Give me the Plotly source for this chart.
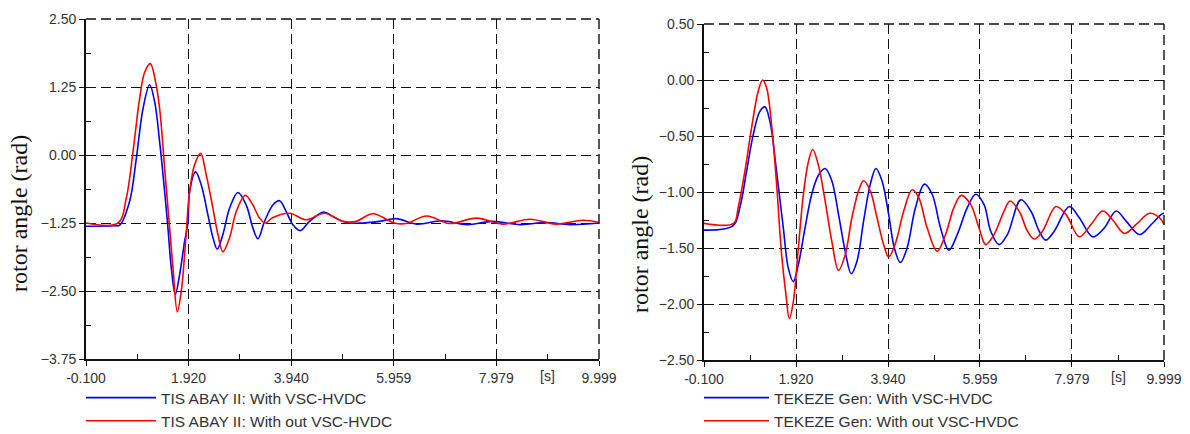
import plotly.graph_objects as go

W, H = 1190, 434

# ---------------- data ----------------
# Left panel: TIS ABAY II rotor angle (rad) vs time (s)
tis_vsc_t = [-0.1, 0.45, 0.563, 0.759, 0.891, 1.022, 1.153, 1.251, 1.350, 1.448,
             1.513, 1.579, 1.658, 1.743, 1.841, 1.907, 1.940, 2.058, 2.169, 2.300,
             2.399, 2.484, 2.595, 2.726, 2.890, 3.054, 3.185, 3.284, 3.415, 3.579,
             3.710, 3.841, 3.972, 4.116, 4.300, 4.582, 4.759, 5.021, 5.349, 5.677,
             6.005, 6.41, 6.9, 7.4, 7.9, 8.45, 8.95, 9.43, 9.999]
tis_vsc_y = [-1.31, -1.30, -1.29, -0.85, -0.06, 0.85, 1.29, 0.98, 0.24, -0.67,
             -1.34, -2.07, -2.56, -2.20, -1.59, -1.25, -0.67, -0.31, -0.55, -1.10,
             -1.52, -1.73, -1.46, -0.98, -0.69, -0.92, -1.34, -1.54, -1.22, -0.92,
             -0.84, -1.04, -1.28, -1.39, -1.22, -1.05, -1.13, -1.24, -1.25, -1.22,
             -1.17, -1.27, -1.21, -1.28, -1.22, -1.28, -1.24, -1.28, -1.25]
tis_novsc_t = [-0.1, 0.53, 0.694, 0.825, 0.956, 1.055, 1.166, 1.271, 1.350, 1.448,
               1.546, 1.612, 1.697, 1.776, 1.861, 1.940, 2.038, 2.156, 2.268, 2.399,
               2.497, 2.595, 2.726, 2.858, 3.035, 3.185, 3.317, 3.428, 3.579, 3.907,
               4.235, 4.595, 4.956, 5.218, 5.546, 5.972, 6.2, 6.61, 7.05, 7.59,
               8.1, 8.64, 9.15, 9.69, 9.999]
tis_novsc_y = [-1.25, -1.25, -0.79, 0.06, 1.04, 1.52, 1.68, 1.34, 0.85, -0.24,
               -1.34, -2.07, -2.88, -2.50, -1.59, -0.67, -0.18, 0.03, -0.37, -0.98,
               -1.46, -1.78, -1.52, -1.04, -0.74, -0.92, -1.16, -1.25, -1.15, -1.07,
               -1.19, -1.07, -1.22, -1.22, -1.08, -1.25, -1.26, -1.12, -1.26, -1.16,
               -1.27, -1.18, -1.27, -1.20, -1.24]

# Right panel: TEKEZE Gen rotor angle (rad) vs time (s)
tek_vsc_t = [-0.1, 0.539, 0.686, 0.833, 0.980, 1.127, 1.237, 1.347, 1.494, 1.641,
             1.751, 1.861, 1.971, 2.118, 2.265, 2.412, 2.559, 2.706, 2.853, 3.000,
             3.132, 3.257, 3.404, 3.551, 3.675, 3.807, 3.954, 4.079, 4.211, 4.358,
             4.542, 4.740, 4.909, 5.092, 5.276, 5.460, 5.680, 5.863, 6.047, 6.194,
             6.378, 6.561, 6.855, 7.075, 7.259, 7.406, 7.589, 7.920, 8.140, 8.434,
             8.691, 8.948, 9.168, 9.462, 9.719, 9.939, 9.999]
tek_vsc_y = [-1.34, -1.30, -1.14, -0.82, -0.49, -0.28, -0.24, -0.37, -0.82, -1.32,
             -1.68, -1.80, -1.65, -1.32, -1.02, -0.85, -0.79, -0.90, -1.20, -1.53,
             -1.73, -1.62, -1.26, -0.93, -0.79, -0.90, -1.20, -1.50, -1.63, -1.50,
             -1.14, -0.93, -1.02, -1.32, -1.52, -1.38, -1.14, -1.02, -1.11, -1.35,
             -1.47, -1.38, -1.07, -1.17, -1.35, -1.43, -1.35, -1.13, -1.23, -1.40,
             -1.32, -1.17, -1.26, -1.38, -1.29, -1.20, -1.19]
tek_novsc_t = [-0.1, 0.55, 0.650, 0.796, 0.943, 1.090, 1.186, 1.274, 1.384, 1.494,
               1.604, 1.700, 1.773, 1.861, 1.971, 2.082, 2.192, 2.287, 2.412, 2.559,
               2.706, 2.853, 3.000, 3.147, 3.293, 3.404, 3.551, 3.698, 3.844, 3.954,
               4.101, 4.285, 4.468, 4.615, 4.799, 5.019, 5.203, 5.386, 5.548, 5.753,
               5.937, 6.084, 6.267, 6.488, 6.620, 6.818, 7.002, 7.149, 7.332, 7.626,
               7.846, 8.140, 8.397, 8.654, 8.874, 9.131, 9.388, 9.682, 9.902, 9.999]
tek_novsc_y = [-1.28, -1.28, -1.14, -0.82, -0.43, -0.10, 0.0, -0.07, -0.40, -0.93,
               -1.56, -1.92, -2.13, -1.98, -1.50, -1.02, -0.73, -0.62, -0.76, -1.08,
               -1.44, -1.70, -1.56, -1.23, -0.99, -0.90, -0.99, -1.23, -1.47, -1.58,
               -1.46, -1.17, -0.98, -1.05, -1.32, -1.53, -1.38, -1.14, -1.03, -1.11,
               -1.32, -1.47, -1.38, -1.17, -1.08, -1.17, -1.35, -1.42, -1.35, -1.13,
               -1.20, -1.40, -1.29, -1.17, -1.25, -1.37, -1.29, -1.19, -1.23, -1.29]

x_tickvals = [-0.1, 1.92, 3.94, 5.959, 7.979, 9.999]
x_ticktext = ["-0.100", "1.920", "3.940", "5.959", "7.979", "9.999"]
x_minor_vals = [0.91, 2.93, 4.9495, 6.969, 8.989]
x_unit_label = "[s]"
x_unit_pos = 8.989

left_yticks = [-3.75, -2.5, -1.25, 0.0, 1.25, 2.5]
left_yminor = [-3.125, -1.875, -0.625, 0.625, 1.875]
right_yticks = [-2.5, -2.0, -1.5, -1.0, -0.5, 0.0, 0.5]
right_yminor = [-2.25, -1.75, -1.25, -0.75, -0.25, 0.25]

y_title = "rotor angle (rad)"
names_left = ["TIS ABAY II: With VSC-HVDC", "TIS ABAY II: With out VSC-HVDC"]
names_right = ["TEKEZE Gen: With VSC-HVDC", "TEKEZE Gen: With out VSC-HVDC"]

BLUE = "#0000ff"
RED = "#ff0000"
INK = "#111111"
TICK_FONT = dict(family="Liberation Sans, Arial, sans-serif", size=14, color="#333333")
LEG_FONT = dict(family="Liberation Sans, Arial, sans-serif", size=15.5, color="#333333")
DASH = "10px,5px"


def px_x(p):
    return p / W


def px_y(p):
    return 1 - p / H


fig = go.Figure()

fig.add_trace(go.Scatter(x=tis_vsc_t, y=tis_vsc_y, name=names_left[0], mode="lines",
                         line=dict(color=BLUE, width=1.6, shape="spline"),
                         xaxis="x", yaxis="y", legend="legend"))
fig.add_trace(go.Scatter(x=tis_novsc_t, y=tis_novsc_y, name=names_left[1], mode="lines",
                         line=dict(color=RED, width=1.6, shape="spline"),
                         xaxis="x", yaxis="y", legend="legend"))
fig.add_trace(go.Scatter(x=tek_vsc_t, y=tek_vsc_y, name=names_right[0], mode="lines",
                         line=dict(color=BLUE, width=1.6, shape="spline"),
                         xaxis="x2", yaxis="y2", legend="legend2"))
fig.add_trace(go.Scatter(x=tek_novsc_t, y=tek_novsc_y, name=names_right[1], mode="lines",
                         line=dict(color=RED, width=1.6, shape="spline"),
                         xaxis="x2", yaxis="y2", legend="legend2"))

GRID = dict(showgrid=True, gridcolor=INK, gridwidth=1.4, griddash=DASH,
            showline=True, linecolor=INK, linewidth=1.8, automargin=False,
            ticks="outside", ticklen=5, tickcolor=INK, tickfont=TICK_FONT,
            zeroline=False, mirror=False)


def minor(vals):
    return dict(tickmode="array", tickvals=vals, ticks="inside", ticklen=5,
                tickcolor=INK, showgrid=False)


# panel geometry (pixels)
L = dict(x0=86, x1=599, y0=19, y1=359)
R = dict(x0=704, x1=1164, y0=24, y1=360)

fig.update_layout(
    width=W, height=H, margin=dict(l=0, r=0, t=0, b=0, autoexpand=False),
    paper_bgcolor="white", plot_bgcolor="white",
    xaxis=dict(domain=[px_x(L["x0"]), px_x(L["x1"])], range=[-0.1, 9.999], anchor="y",
               tickmode="array", tickvals=x_tickvals, ticktext=x_ticktext,
               minor=minor(x_minor_vals), **GRID),
    yaxis=dict(domain=[px_y(L["y1"]), px_y(L["y0"])], range=[-3.75, 2.5], anchor="x",
               tickmode="array", tickvals=left_yticks, tickformat=".2f",
               minor=minor(left_yminor), **GRID),
    xaxis2=dict(domain=[px_x(R["x0"]), px_x(R["x1"])], range=[-0.1, 9.999], anchor="y2",
                tickmode="array", tickvals=x_tickvals, ticktext=x_ticktext,
                minor=minor(x_minor_vals), **GRID),
    yaxis2=dict(domain=[px_y(R["y1"]), px_y(R["y0"])], range=[-2.5, 0.5], anchor="x2",
                tickmode="array", tickvals=right_yticks, tickformat=".2f",
                minor=minor(right_yminor), **GRID),
    legend=dict(x=px_x(81), y=px_y(381), xanchor="left", yanchor="top",
                itemwidth=70, bgcolor="rgba(0,0,0,0)", tracegroupgap=0, font=LEG_FONT),
    legend2=dict(x=px_x(699), y=px_y(381), xanchor="left", yanchor="top",
                 itemwidth=65, bgcolor="rgba(0,0,0,0)", tracegroupgap=0, font=LEG_FONT),
    showlegend=True,
)

# dashed top and right frame edges (the grid lines at the range limits)
shapes = []
for xr, yr in [("x domain", "y domain"), ("x2 domain", "y2 domain")]:
    shapes.append(dict(type="line", xref=xr, yref=yr, x0=0, x1=1, y0=1, y1=1,
                       line=dict(color=INK, width=1.4, dash=DASH), layer="above"))
    shapes.append(dict(type="line", xref=xr, yref=yr, x0=1, x1=1, y0=0, y1=1,
                       line=dict(color=INK, width=1.4, dash=DASH), layer="above"))

annots = []
for xc, yc in [(19, 214), (640, 235)]:
    annots.append(dict(text=y_title, xref="paper", yref="paper", x=px_x(xc), y=px_y(yc),
                       xanchor="center", yanchor="middle", textangle=-90, showarrow=False,
                       font=dict(family="Liberation Serif, Times New Roman, serif", size=24,
                                 color=INK)))
for xr, yr in [("x", "y domain"), ("x2", "y2 domain")]:
    annots.append(dict(text=x_unit_label, xref=xr, yref=yr, x=x_unit_pos, y=0,
                       xanchor="center", yanchor="top", yshift=-7, showarrow=False,
                       font=TICK_FONT))
fig.update_layout(annotations=annots, shapes=shapes)

fig.write_html("out.html")
